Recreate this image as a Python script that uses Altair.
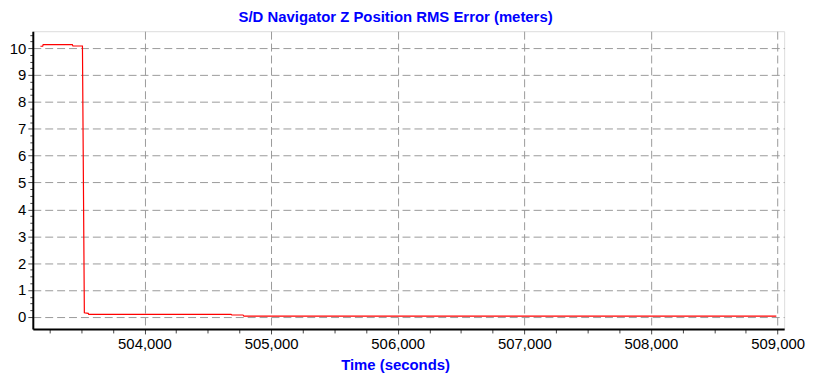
import altair as alt
import pandas as pd

# Data
time_s = [503178, 503196, 503200, 503430, 503435, 503510, 503525, 503556,
          503560, 504684, 504690, 504778, 504785, 508990]
rms_err = [10.07, 10.07, 10.13, 10.13, 10.08, 10.08, 0.15, 0.13,
           0.09, 0.09, 0.07, 0.07, 0.03, 0.03]

x_ticks = [503250 + 250 * i for i in range(24)]
y_ticks = [0.25 * i for i in range(0, 43)]

df = pd.DataFrame({"t": time_s, "v": rms_err})

blue = "#0000FF"
font = "Liberation Sans"

x_axis = alt.Axis(
    values=x_ticks,
    labelExpr="datum.value % 1000 == 0 ? format(datum.value, ',d') : ''",
    gridOpacity={"condition": {"test": "datum.value % 1000 == 0", "value": 1}, "value": 0},
    tickSize={"condition": {"test": "datum.value % 1000 == 0", "value": 5}, "value": 4},
    grid=True, gridDash=[8, 4], gridColor="#9a9a9a", gridWidth=1,
    domainColor="black", domainWidth=2, tickColor="#444",
    labelFont=font, labelFontSize=15, labelColor="black", labelPadding=3,
    labelFlush=False, labelOverlap=False,
    title="Time (seconds)", titleFont=font, titleFontSize=15,
    titleFontWeight="bold", titleColor=blue,
    titleX=365, titleY=41, titleAlign="center", titleBaseline="alphabetic",
)

y_axis = alt.Axis(
    values=y_ticks,
    labelExpr="datum.value % 1 == 0 ? format(datum.value, 'd') : ''",
    gridOpacity={"condition": {"test": "datum.value % 1 == 0", "value": 1}, "value": 0},
    tickSize={"condition": {"test": "datum.value % 1 == 0", "value": 5}, "value": 3},
    grid=True, gridDash=[8, 4], gridColor="#9a9a9a", gridWidth=1,
    domainColor="black", domainWidth=2, tickColor="#444",
    labelFont=font, labelFontSize=15, labelColor="black", labelPadding=2,
    labelOverlap=False, labelFlush=False,
    title=None,
)

chart = alt.Chart(df).mark_line(color="#FF0000", strokeWidth=1.2).encode(
    x=alt.X("t:Q", scale=alt.Scale(domain=[503118, 509052], nice=False, zero=False), axis=x_axis),
    y=alt.Y("v:Q", scale=alt.Scale(domain=[-0.45, 10.63], nice=False, zero=False), axis=y_axis),
).properties(
    width=757,
    height=300,
    title=alt.TitleParams(
        "S/D Navigator Z Position RMS Error (meters)",
        font=font, fontSize=15, fontWeight="bold", color=blue,
        anchor="middle", offset=3, dx=-13,
    ),
    autosize=alt.AutoSizeParams(type="none"),
    padding={"left": 25, "top": 22, "right": 22, "bottom": 44},
).configure_view(stroke="black", strokeWidth=1.5).configure(background="white")

chart.save("out.html", embed_options={"renderer": "svg", "actions": False})
